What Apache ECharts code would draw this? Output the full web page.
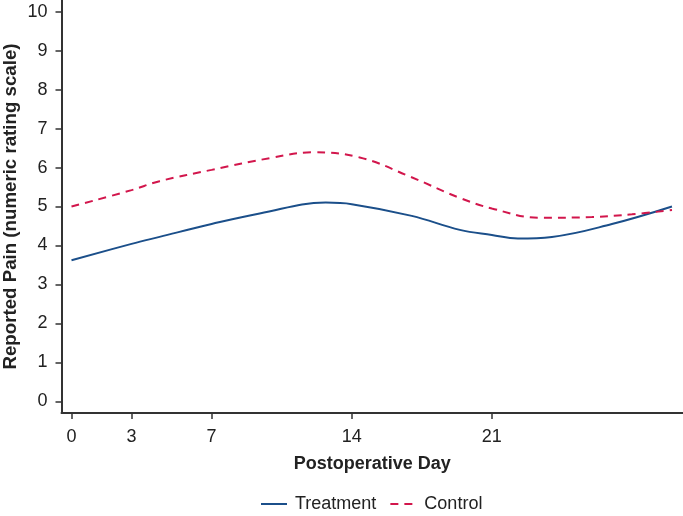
<!DOCTYPE html>
<html>
<head>
<meta charset="utf-8">
<script src="https://cdn.jsdelivr.net/npm/echarts@6/dist/echarts.min.js"></script>
<style>html,body{margin:0;padding:0;background:#fff}#c{width:683px;height:516px}</style>
</head>
<body>
<div id="c"></div>
<script>
var xTicks = [0, 3, 7, 14, 21];
var yTicks = [0, 1, 2, 3, 4, 5, 6, 7, 8, 9, 10];
var days = [0, 3, 4.4, 7, 9.4, 12.7, 14, 17, 19.4, 21, 22.3, 24, 27, 30];
var treatment = [3.62, 4.04, 4.22, 4.55, 4.82, 5.1, 5.06, 4.76, 4.4, 4.27, 4.18, 4.22, 4.55, 5.0];
var controlDays = [0, 3, 4.4, 7, 10, 12, 14.4, 16.9, 19.4, 21, 23.4, 26, 28, 30];
var control = [5.0, 5.42, 5.65, 5.94, 6.25, 6.39, 6.26, 5.77, 5.22, 4.95, 4.71, 4.73, 4.8, 4.91];

function pairs(xs, ys) { return xs.map(function (x, i) { return [x, ys[i]]; }); }

var font = "'Liberation Sans', Arial, Helvetica, sans-serif";
var chart = echarts.init(document.getElementById('c'));
chart.setOption({
  animation: false,
  textStyle: { fontFamily: font },
  grid: { left: 61.5, right: 0, top: 0, bottom: 103, containLabel: false, outerBoundsMode: 'none' },
  legend: {
    top: 495, left: 260, padding: 0, itemWidth: 26, itemHeight: 14, itemGap: 13,
    itemStyle: { opacity: 0 },
    textStyle: { fontSize: 18, color: '#222', fontFamily: font, padding: [0, 0, 0, 3] },
    data: ['Treatment', 'Control']
  },
  xAxis: {
    type: 'value', min: -0.5, max: 30.55,
    name: 'Postoperative Day', nameLocation: 'middle', nameGap: 42, nameMoveOverlap: false,
    nameTextStyle: { fontSize: 18, fontWeight: 'bold', color: '#222', fontFamily: font },
    axisLine: { show: true, onZero: false, lineStyle: { color: '#333', width: 2 } },
    axisTick: { show: true, length: 6, lineStyle: { color: '#333', width: 1.5 }, customValues: xTicks },
    axisLabel: { fontSize: 18, color: '#222', margin: 15, customValues: xTicks },
    splitLine: { show: false }
  },
  yAxis: {
    type: 'value', min: -0.3, max: 10.3,
    name: 'Reported Pain (numeric rating scale)', nameLocation: 'middle', nameGap: 41, nameMoveOverlap: false,
    nameTextStyle: { fontSize: 18.7, fontWeight: 'bold', color: '#222', fontFamily: font },
    axisLine: { show: true, onZero: false, lineStyle: { color: '#333', width: 2 } },
    axisTick: { show: true, length: 6, lineStyle: { color: '#333', width: 1.5 }, customValues: yTicks },
    axisLabel: { fontSize: 18, color: '#222', margin: 14, customValues: yTicks },
    splitLine: { show: false }
  },
  series: [
    {
      name: 'Treatment', type: 'line', smooth: 0.4, symbol: 'none',
      data: pairs(days, treatment),
      lineStyle: { color: '#1b4f8a', width: 2 }, itemStyle: { color: '#1b4f8a' }
    },
    {
      name: 'Control', type: 'line', smooth: 0.4, symbol: 'none',
      data: pairs(controlDays, control),
      lineStyle: { color: '#d2164c', width: 2, type: [8, 6] }, itemStyle: { color: '#d2164c' }
    }
  ]
});
</script>
</body>
</html>
